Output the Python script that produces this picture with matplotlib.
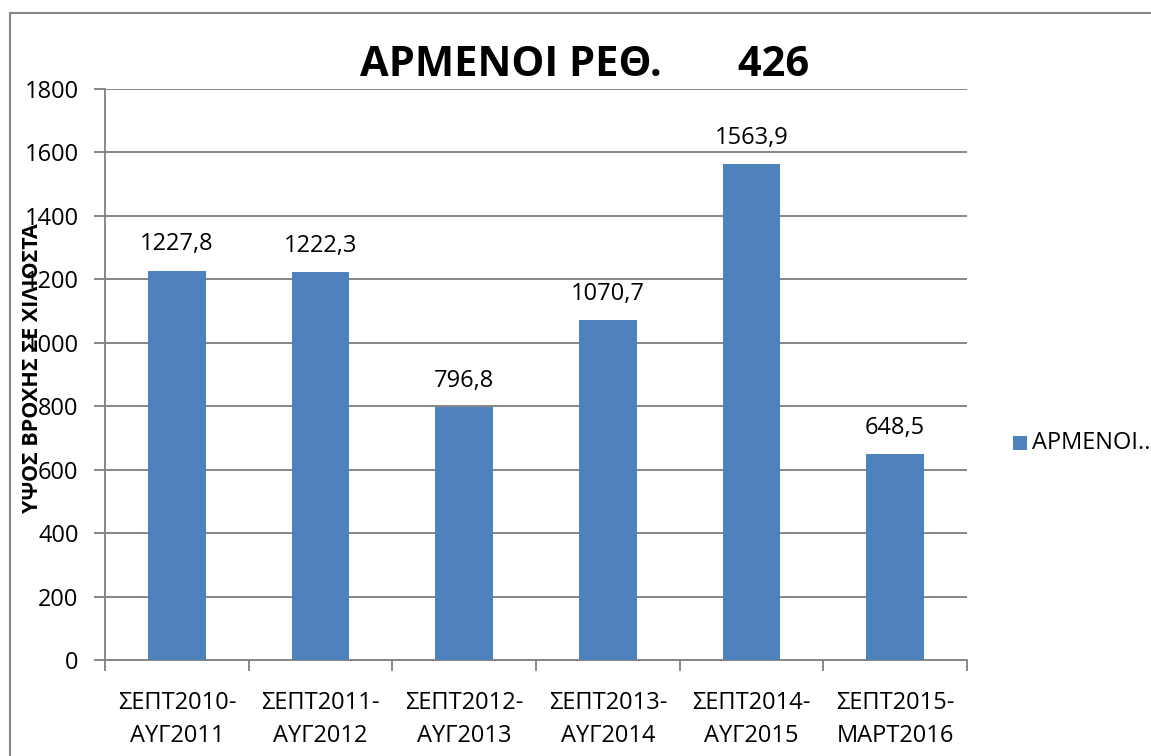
import matplotlib
matplotlib.use("Agg")
import matplotlib.pyplot as plt
from matplotlib.patches import Rectangle
import numpy as np

plt.rcParams['font.family'] = ['Open Sans', 'DejaVu Sans']

categories = ["ΣΕΠΤ2010-\nΑΥΓ2011", "ΣΕΠΤ2011-\nΑΥΓ2012", "ΣΕΠΤ2012-\nΑΥΓ2013",
              "ΣΕΠΤ2013-\nΑΥΓ2014", "ΣΕΠΤ2014-\nΑΥΓ2015", "ΣΕΠΤ2015-\nΜΑΡΤ2016"]
values = [1227.8, 1222.3, 796.8, 1070.7, 1563.9, 648.5]
value_labels = ["1227,8", "1222,3", "796,8", "1070,7", "1563,9", "648,5"]
yticks = [0, 200, 400, 600, 800, 1000, 1200, 1400, 1600, 1800]
title = "ΑΡΜΕΝΟΙ ΡΕΘ.       426"
ylabel = "ΥΨΟΣ ΒΡΟΧΗΣ ΣΕ ΧΙΛΙΟΣΤΑ"
legend_label = "ΑΡΜΕΝΟΙ.."

W, H = 1151, 756
fig = plt.figure(figsize=(W/100, H/100), dpi=100)
bar_color = "#4F81BD"
grid_color = "#868686"

# outer chart border
fig.patches.append(Rectangle((10/W, -0.05), 1.2, (756-13)/H + 0.05, transform=fig.transFigure,
                             fill=False, edgecolor=grid_color, linewidth=1.5))

ax = fig.add_axes([105/W, (756-660)/H, (967-105)/W, (660-89)/H])
x = np.arange(len(values))
ax.bar(x, values, width=0.4, color=bar_color, zorder=3)
ax.set_xlim(-0.5, len(values) - 0.5)
ax.set_ylim(0, 1800)
ax.set_yticks(yticks)
ax.set_yticklabels([str(t) for t in yticks], fontsize=17)
ax.yaxis.grid(True, color=grid_color, linewidth=1.4, zorder=0)
ax.set_axisbelow(True)

ax.set_xticks(np.arange(-0.5, len(values), 1.0))
ax.set_xticklabels([])
ax.set_xticks(x, minor=True)
ax.set_xticklabels(categories, minor=True, fontsize=17, linespacing=1.55)
ax.tick_params(axis='x', which='minor', length=0, pad=22)
ax.tick_params(axis='x', which='major', length=8, width=1.4, color=grid_color)
ax.tick_params(axis='y', length=8, width=1.4, color=grid_color, pad=11)

for s in ['top', 'right']:
    ax.spines[s].set_visible(False)
for s in ['left', 'bottom']:
    ax.spines[s].set_color(grid_color)
    ax.spines[s].set_linewidth(1.4)

for xi, v, lab in zip(x, values, value_labels):
    ax.annotate(lab, (xi, v), xytext=(0, 19), textcoords='offset points',
                ha='center', va='center', fontsize=17)

fig.text(585/W, 1 - 65/H, title, ha='center', va='center', fontsize=30, fontweight='bold')
fig.text(33/W, 1 - 368/H, ylabel, ha='center', va='center', rotation=90,
         fontsize=15.5, fontweight='bold')

# legend
fig.patches.append(Rectangle((1013/W, 1 - 450/H), 14/W, 14/H, transform=fig.transFigure,
                             facecolor=bar_color, edgecolor='none'))
fig.text(1032/W, 1 - 443/H, legend_label, ha='left', va='center', fontsize=17)

fig.savefig("out.png", dpi=100)
